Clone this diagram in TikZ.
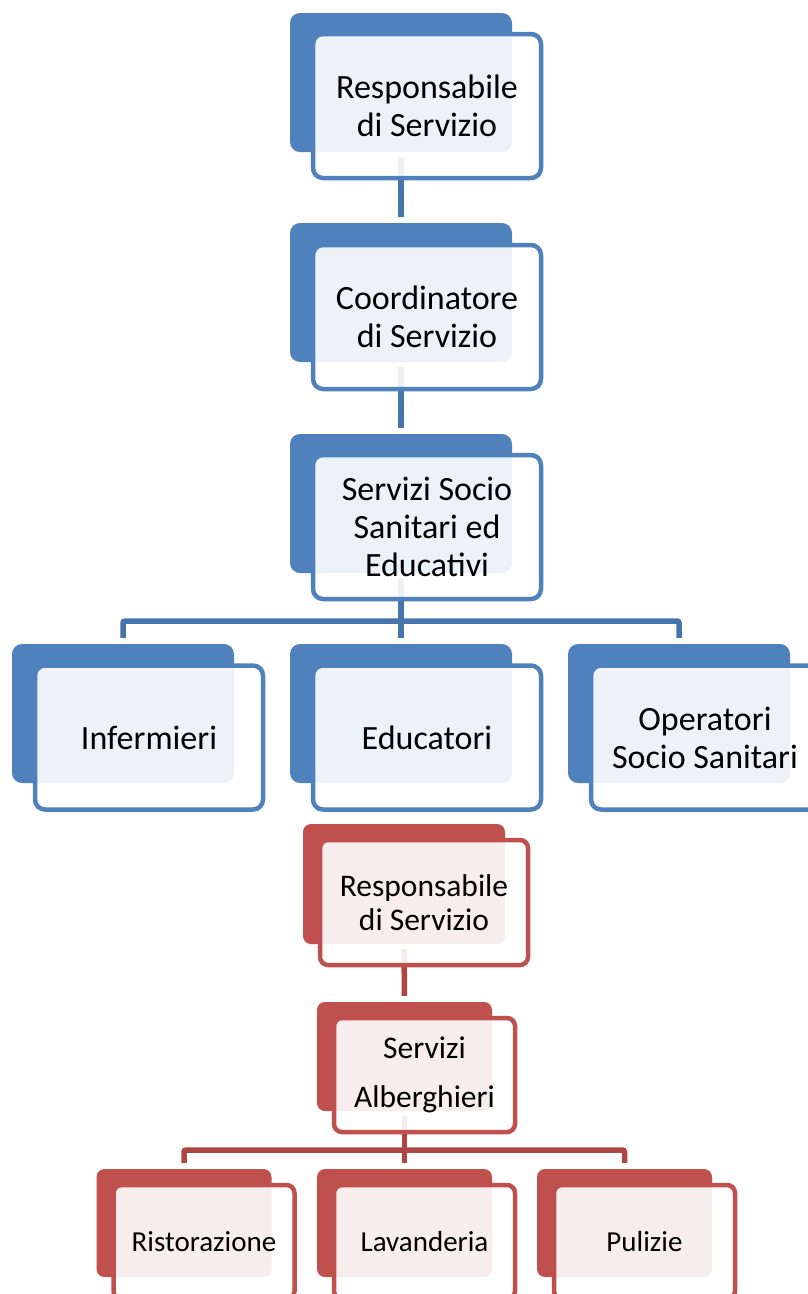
\documentclass[tikz,border=0pt]{standalone}
\usepackage{fontspec}
\setmainfont{Carlito}
\definecolor{bl}{HTML}{4F81BD}
\definecolor{blc}{HTML}{4674AC}
\definecolor{rd}{HTML}{C0504D}
\definecolor{rdc}{HTML}{B04643}
\begin{document}
\begin{tikzpicture}[x=1pt,y=-1pt,
  bback/.style={rectangle, rounded corners=10pt, fill=bl, inner sep=0pt, minimum width=222pt, minimum height=139pt},
  bfront/.style={rectangle, rounded corners=10pt, draw=bl, line width=4.5pt, fill=white, fill opacity=0.9, text opacity=1, minimum width=228pt, minimum height=144pt, align=center, inner sep=0pt, font=\fontsize{34}{38}\selectfont},
  rback/.style={rectangle, rounded corners=8pt, fill=rd, inner sep=0pt, minimum width=175pt, minimum height=109pt},
  rfront/.style={rectangle, rounded corners=8pt, draw=rd, line width=4.5pt, fill=white, fill opacity=0.9, text opacity=1, minimum width=181pt, minimum height=114pt, align=center, inner sep=0pt, font=\fontsize{31.5}{34}\selectfont},
  bconn/.style={draw=blc, line width=5.5pt},
  rconn/.style={draw=rdc, line width=5.5pt}]
\useasboundingbox (0,0) rectangle (808,1294);
\clip (0,0) rectangle (808,1294);

% blue back boxes
\node[bback] (b1) at (401,82.5) {};
\node[bback] (b2) at (401,292.5) {};
\node[bback] (b3) at (401,503.5) {};
\node[bback] (i1) at (123,713.5) {};
\node[bback] (e1) at (401,713.5) {};
\node[bback] (o1) at (679,713.5) {};

% red back boxes
\node[rback, minimum width=202pt, minimum height=120pt] (r1) at (404,884) {};
\node[rback] (r2) at (404.5,1056.5) {};
\node[rback, minimum height=108pt] (s1) at (184,1223) {};
\node[rback, minimum height=108pt] (s2) at (404.5,1223) {};
\node[rback, minimum height=108pt] (s3) at (624.5,1223) {};

% connectors
\coordinate (bbar) at (401,621);
\coordinate (rbar) at (404,1150);
\draw[bconn, shorten <=5pt, shorten >=6pt] (b1.south) -- (b2.north);
\draw[bconn, shorten <=5pt, shorten >=6pt] (b2.south) -- (b3.north);
\draw[bconn, shorten <=5pt, shorten >=6pt] (b3.south) -- (e1.north);
\draw[bconn, rounded corners=2pt, shorten <=6pt, shorten >=6pt] (i1.north) -- (i1.north |- bbar) -- (o1.north |- bbar) -- (o1.north);

\draw[rconn, shorten <=5pt, shorten >=6pt] (r1.south) -- (r2.north);
\draw[rconn, shorten <=5pt, shorten >=6pt] (r2.south) -- (s2.north);
\draw[rconn, rounded corners=2pt, shorten <=6pt, shorten >=6pt] (s1.north) -- (s1.north |- rbar) -- (s3.north |- rbar) -- (s3.north);

% blue front boxes
\node[bfront] (b1f) at (427,106) {Responsabile\\di Servizio};
\node[bfront] (b2f) at (427,317) {Coordinatore\\di Servizio};
\node[bfront] (b3f) at (427,527) {Servizi Socio\\Sanitari ed\\Educativi};
\node[bfront] (i1f) at (149,737.5) {Infermieri};
\node[bfront] (e1f) at (427,737.5) {Educatori};
\node[bfront] (o1f) at (705,737.5) {Operatori\\Socio Sanitari};

% red front boxes
\node[rfront, minimum width=208pt, minimum height=125pt] (r1f) at (424,902.5) {Responsabile\\di Servizio};
\node[rfront, font=\fontsize{31.5}{49}\selectfont] (r2f) at (424.5,1075) {Servizi\\Alberghieri};
\node[rfront, font=\fontsize{29}{34}\selectfont] (s1f) at (204,1242) {Ristorazione};
\node[rfront, font=\fontsize{29}{34}\selectfont] (s2f) at (424.5,1242) {Lavanderia};
\node[rfront, font=\fontsize{29}{34}\selectfont] (s3f) at (644.5,1242) {Pulizie};
\end{tikzpicture}
\end{document}
